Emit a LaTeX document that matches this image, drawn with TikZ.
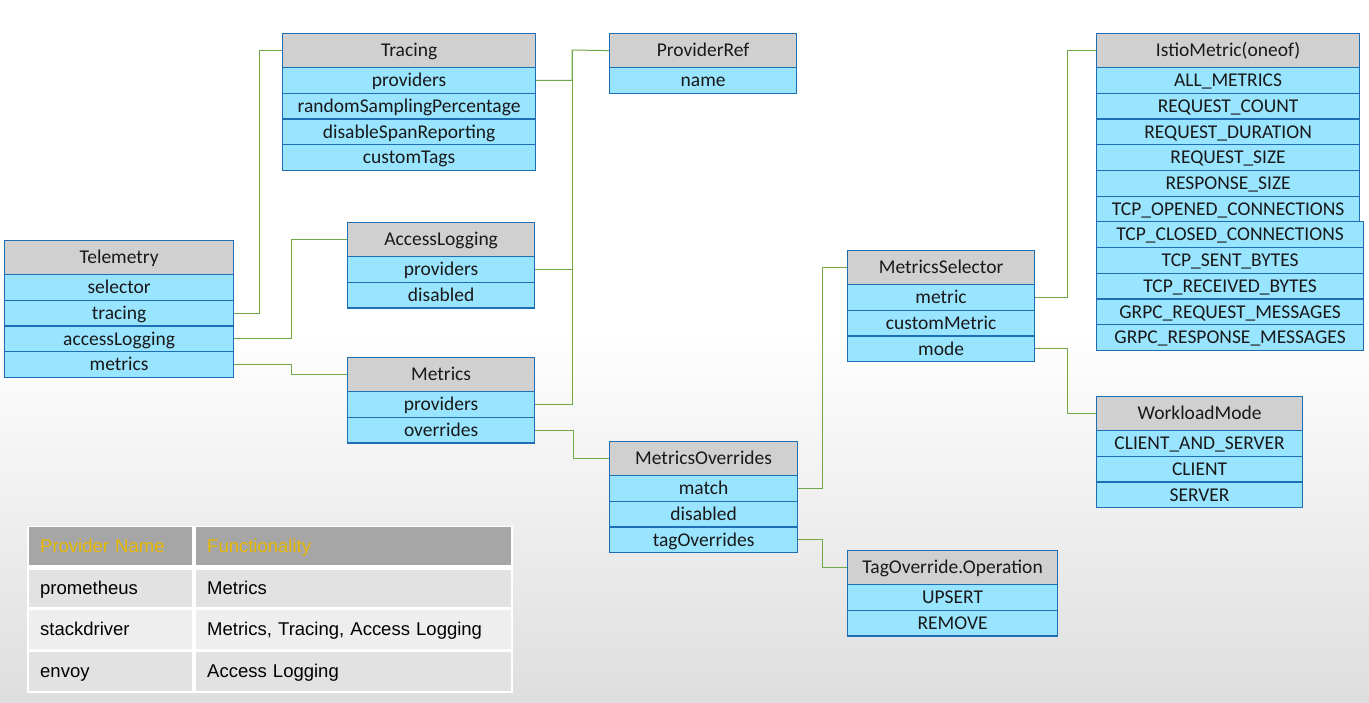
\documentclass[tikz,border=0pt]{standalone}
\usepackage{fontspec}
\usetikzlibrary{calc}
\newfontfamily\boxfont{Carlito}
\newfontfamily\tabfont{Liberation Sans}
\definecolor{rowblue}{RGB}{153,228,255}
\definecolor{hdrgray}{RGB}{208,208,208}
\definecolor{bordblue}{RGB}{30,110,180}
\definecolor{conngreen}{RGB}{112,168,72}
\definecolor{tabhdr}{RGB}{166,166,166}
\definecolor{tabgold}{RGB}{232,184,0}
\definecolor{tabrowA}{RGB}{226,226,226}
\definecolor{tabrowB}{RGB}{238,238,238}
\definecolor{bgbottom}{RGB}{222,222,222}
\definecolor{boxtext}{RGB}{25,25,25}
\tikzset{
  cell/.style={draw=bordblue, line width=1.2pt, anchor=north west, inner sep=0pt,
    font=\boxfont\fontsize{19.5}{22}\selectfont, text=boxtext,
    text height=15.5pt, text depth=3pt},
  hdr/.style={cell, fill=hdrgray, minimum height=34pt},
  rowc/.style={cell, fill=rowblue, minimum height=25.7pt},
  conn/.style={draw=conngreen, line width=1pt},
  tcell/.style={anchor=north west, inner xsep=11pt, inner ysep=0pt, align=left,
    font=\tabfont\fontsize{18.5}{22}\selectfont, text height=16pt, text depth=3.5pt},
  thdr/.style={tcell, fill=tabhdr, text=tabgold, minimum height=38pt},
}
\newcommand\umlbox[6]{%
  \node[hdr, minimum width=#4pt] (#1-h) at (#2,#3) {#5};
  \foreach \t [count=\i] in {#6} {
    \node[rowc, minimum width=#4pt] (#1-\i) at (#2,{#3+34+(\i-1)*25.7}) {\t};
  }%
}
\begin{document}
\begin{tikzpicture}[x=1pt,y=-1pt]
\useasboundingbox (0,0) rectangle (1369,702);
\fill[white] (0,0) rectangle (1369,702);
\shade[top color=white, bottom color=bgbottom] (0,330) rectangle (1369,702);

% boxes
\umlbox{tel}{4}{240}{229}{Telemetry}{selector,tracing,accessLogging,metrics}
\umlbox{tr}{282}{33}{253}{Tracing}{providers,randomSamplingPercentage,disableSpanReporting,customTags}
\umlbox{pr}{609}{33}{187}{ProviderRef}{name}
\umlbox{al}{347}{222}{187}{AccessLogging}{providers,disabled}
\umlbox{met}{347}{357}{187}{Metrics}{providers,overrides}
\umlbox{mo}{609}{441}{188}{MetricsOverrides}{match,disabled,tagOverrides}
\umlbox{ms}{847}{250}{187}{MetricsSelector}{metric,customMetric,mode}
\umlbox{im}{1096}{33}{263}{IstioMetric(oneof)}{ALL\_METRICS,REQUEST\_COUNT,REQUEST\_DURATION,REQUEST\_SIZE,RESPONSE\_SIZE,TCP\_OPENED\_CONNECTIONS}
\foreach \t [count=\i from 7] in {TCP\_CLOSED\_CONNECTIONS,TCP\_SENT\_BYTES,TCP\_RECEIVED\_BYTES,GRPC\_REQUEST\_MESSAGES,GRPC\_RESPONSE\_MESSAGES} {
  \node[rowc, minimum width=267pt] (im-\i) at (1096,{33+34+(\i-1)*25.7}) {\t};
}
\umlbox{wm}{1096}{396}{206}{WorkloadMode}{CLIENT\_AND\_SERVER,CLIENT,SERVER}
\umlbox{to}{847}{550}{210}{TagOverride.Operation}{UPSERT,REMOVE}

% connectors
\coordinate (bus) at (572,50);
\draw[conn] (tel-2.east) -- ++(25,0) |- (tr-h.west);
\draw[conn] (tel-3.east) -- ++(57,0) |- (al-h.west);
\draw[conn] (tel-4.east) -- ++(57,0) |- (met-h.west);
\draw[conn] (tr-1.east) -| (bus) -- (pr-h.west);
\draw[conn] (al-1.east) -- (al-1.east -| bus);
\draw[conn] (bus) |- (met-1.east);
\draw[conn] (met-2.east) -- ++(38,0) |- (mo-h.west);
\draw[conn] (mo-1.east) -- ++(24,0) |- (ms-h.west);
\draw[conn] (mo-3.east) -- ++(24,0) |- (to-h.west);
\draw[conn] (ms-1.east) -- ++(32,0) |- (im-h.west);
\draw[conn] (ms-3.east) -- ++(32,0) |- (wm-h.west);

% provider table
\fill[white] (27,526) rectangle (513,693);
\node[thdr, text width=141pt] (th1) at (29,527) {Provider Name};
\node[thdr, text width=293pt] (th2) at (196,527) {Functionality};
\node[tcell, fill=tabrowA, minimum height=37pt, text width=141pt] (t11) at (29,570) {prometheus};
\node[tcell, fill=tabrowA, minimum height=37pt, text width=293pt] (t12) at (196,570) {Metrics};
\node[tcell, fill=tabrowB, minimum height=39pt, text width=141pt] (t21) at (29,610) {stackdriver};
\node[tcell, fill=tabrowB, minimum height=39pt, text width=293pt] (t22) at (196,610) {Metrics, Tracing, Access Logging};
\node[tcell, fill=tabrowA, minimum height=39pt, text width=141pt] (t31) at (29,652) {envoy};
\node[tcell, fill=tabrowA, minimum height=39pt, text width=293pt] (t32) at (196,652) {Access Logging};
\end{tikzpicture}
\end{document}
